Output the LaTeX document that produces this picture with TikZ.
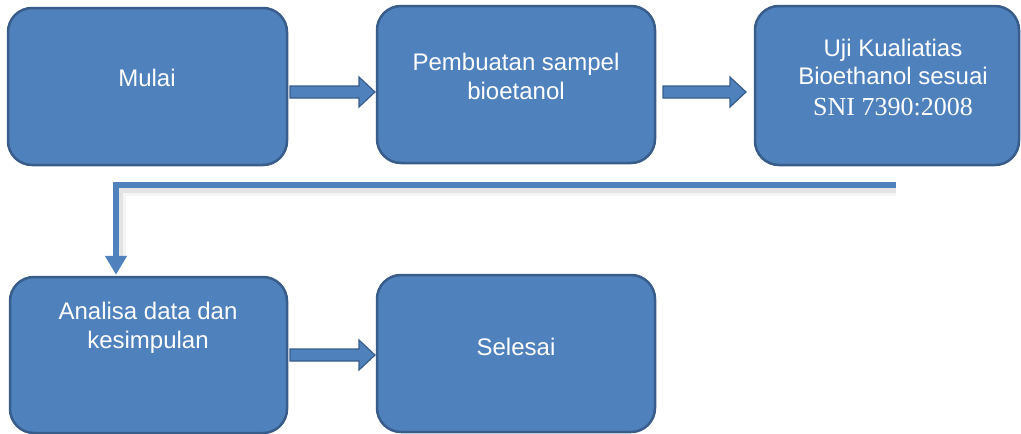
\documentclass[tikz,border=0pt]{standalone}
\usepackage{fontspec}
\setmainfont{Liberation Sans}
\newfontfamily\serifsni{Liberation Serif}
\usetikzlibrary{arrows.meta,calc}
\definecolor{boxfill}{HTML}{4F81BD}
\definecolor{boxline}{HTML}{385D8A}
\definecolor{lineblue}{HTML}{4F81BD}
\tikzset{
  box/.style={draw=boxline, line width=2.5pt, fill=boxfill, rounded corners=24pt, inner sep=0pt},
  txt/.style={text=white, font=\fontsize{24}{29}\selectfont, anchor=base, inner sep=0pt},
  sni/.style={text=white, font=\serifsni\fontsize{26}{30}\selectfont, anchor=base, inner sep=0pt},
  blockarr/.style={draw=boxline, line width=1.2pt, fill=boxfill, line join=miter},
  conn/.style={draw=lineblue, line width=6pt, -{Triangle[width=21pt,length=19pt]}},
  connshadow/.style={draw=black, opacity=0.07, line width=8pt},
}
\newcommand{\blockarrow}[2]{%
  \path let \p1=(#1), \p2=(#2) in
    [blockarr] (\x1,\y1+6) -- (\x2-16,\y1+6) -- (\x2-16,\y1+15) -- (\x2,\y1) --
    (\x2-16,\y1-15) -- (\x2-16,\y1-6) -- (\x1,\y1-6) -- cycle;}
\begin{document}
\begin{tikzpicture}[x=1pt,y=-1pt]
\useasboundingbox (0,0) rectangle (1021,434);
% boxes
\node[box, minimum width=279pt, minimum height=157pt] (mulai) at (147.5,86.5) {};
\node[box, minimum width=278pt, minimum height=157pt] (pemb) at (516,84.5) {};
\node[box, minimum width=264pt, minimum height=159pt] (uji) at (887,85.5) {};
\node[box, minimum width=277pt, minimum height=156pt] (analisa) at (148.5,355) {};
\node[box, minimum width=278pt, minimum height=157pt] (selesai) at (516,353.5) {};
% texts
\node[txt] (tMulai) at (147,86) {Mulai};
\node[txt] (tPem1) at (516,70) {Pembuatan sampel};
\node[txt] (tPem2) at (516,99) {bioetanol};
\node[txt] (tUji1) at (893,56) {Uji Kualiatias};
\node[txt] (tUji2) at (893,84) {Bioethanol sesuai};
\node[sni] (tUji3) at (893,115) {SNI 7390:2008};
\node[txt] (tAna1) at (148,319) {Analisa data dan};
\node[txt] (tAna2) at (148,348) {kesimpulan};
\node[txt] (tSel) at (516,355) {Selesai};
% block arrows
\coordinate (a1s) at (290,92);
\coordinate (a1e) at (375,92);
\blockarrow{a1s}{a1e}
\coordinate (a2s) at (663,92);
\coordinate (a2e) at (746,92);
\blockarrow{a2s}{a2e}
\coordinate (a3s) at (290,355);
\coordinate (a3e) at (375,355);
\blockarrow{a3s}{a3e}
% connector
\coordinate (cstart) at (896,184.5);
\coordinate (cend) at ($(analisa.north)+(-32.5,-1)$);
\draw[connshadow] ($(cstart)+(0,4)$) -- ($(cend|-cstart)+(3,4)$) -- ($(cend)+(3,-18)$);
\draw[connshadow, line width=12pt, opacity=0.04] ($(cstart)+(0,5)$) -- ($(cend|-cstart)+(4,5)$) -- ($(cend)+(4,-18)$);
\draw[conn] (cstart) -| (cend);
\end{tikzpicture}
\end{document}
